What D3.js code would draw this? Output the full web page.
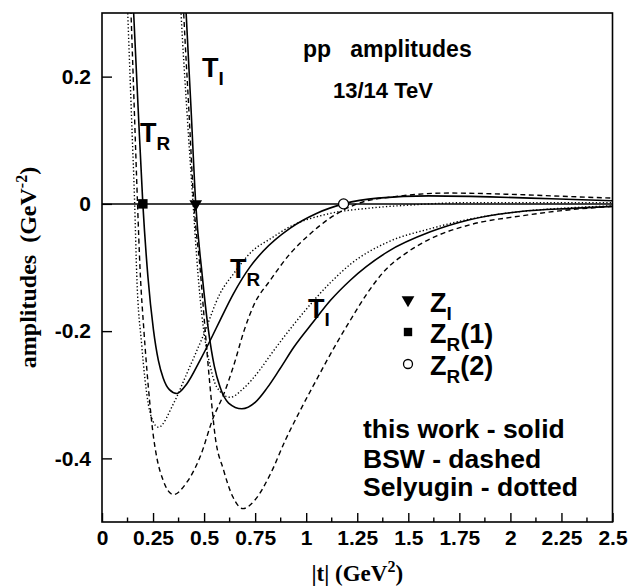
<!DOCTYPE html>
<html><head><meta charset="utf-8">
<script src="https://cdn.jsdelivr.net/npm/d3@7"></script>
<style>body{margin:0;background:#fff}</style>
</head><body>
<svg id="c" width="628" height="588"></svg>
<script>
// ---- data ----
const xTickValues = [0, 0.25, 0.5, 0.75, 1, 1.25, 1.5, 1.75, 2, 2.25, 2.5];
const xTickLabels = ["0", "0.25", "0.5", "0.75", "1", "1.25", "1.5", "1.75", "2", "2.25", "2.5"];
const yTickValues = [0.2, 0, -0.2, -0.4];
const yTickLabels = ["0.2", "0", "-0.2", "-0.4"];

// this work (solid)
const solidTR_t = [0.09, 0.155, 0.177, 0.2, 0.225, 0.252, 0.276, 0.3, 0.33, 0.366, 0.415, 0.48, 0.537, 0.578, 0.644, 0.725, 0.79, 0.922, 1.05, 1.183, 1.35, 1.6, 1.9, 2.2, 2.5];
const solidTR_v = [0.8, 0.3, 0.15, 0, -0.115, -0.198, -0.246, -0.274, -0.292, -0.298, -0.283, -0.246, -0.21, -0.183, -0.141, -0.099, -0.074, -0.038, -0.015, 0, 0.009, 0.0125, 0.011, 0.008, 0.005];
const solidTI_t = [0.36, 0.412, 0.436, 0.459, 0.49, 0.521, 0.55, 0.578, 0.62, 0.685, 0.75, 0.807, 0.87, 0.94, 1.036, 1.118, 1.216, 1.4, 1.608, 1.8, 2.05, 2.3, 2.5];
const solidTI_v = [0.7, 0.3, 0.15, 0, -0.11, -0.198, -0.255, -0.288, -0.313, -0.322, -0.312, -0.29, -0.26, -0.225, -0.185, -0.152, -0.12, -0.075, -0.044, -0.025, -0.012, -0.007, -0.004];

// BSW (dashed)
const bswTR_t = [0.08, 0.142, 0.158, 0.174, 0.186, 0.205, 0.227, 0.252, 0.268, 0.3, 0.35, 0.41, 0.48, 0.546, 0.595, 0.644, 0.697, 0.742, 0.824, 0.922, 1.02, 1.118, 1.25, 1.45, 1.7, 2.0, 2.25, 2.5];
const bswTR_v = [0.8, 0.3, 0.15, 0, -0.1, -0.198, -0.288, -0.366, -0.398, -0.435, -0.457, -0.44, -0.398, -0.335, -0.3, -0.255, -0.198, -0.16, -0.12, -0.078, -0.047, -0.022, 0, 0.012, 0.017, 0.015, 0.012, 0.009];
const bswTI_t = [0.35, 0.40, 0.425, 0.45, 0.48, 0.505, 0.53, 0.554, 0.595, 0.64, 0.69, 0.75, 0.824, 0.9, 0.97, 1.036, 1.158, 1.216, 1.3, 1.379, 1.5, 1.608, 1.8, 2.05, 2.3, 2.5];
const bswTI_v = [0.7, 0.3, 0.15, 0, -0.1, -0.198, -0.29, -0.365, -0.418, -0.46, -0.479, -0.465, -0.425, -0.37, -0.325, -0.285, -0.214, -0.183, -0.14, -0.107, -0.075, -0.055, -0.033, -0.019, -0.009, -0.004];

// Selyugin (dotted)
const selTR_t = [0.07, 0.126, 0.143, 0.16, 0.17, 0.194, 0.227, 0.25, 0.276, 0.35, 0.415, 0.497, 0.578, 0.644, 0.733, 0.824, 0.92, 1.118, 1.3, 1.5, 1.8, 2.1, 2.5];
const selTR_v = [0.8, 0.3, 0.15, 0, -0.11, -0.22, -0.315, -0.342, -0.351, -0.314, -0.267, -0.206, -0.141, -0.11, -0.075, -0.055, -0.036, -0.015, -0.007, -0.002, 0.002, 0.002, 0.002];
const selTI_t = [0.33, 0.387, 0.415, 0.446, 0.47, 0.489, 0.505, 0.53, 0.562, 0.627, 0.693, 0.775, 0.824, 0.938, 1.118, 1.216, 1.4, 1.608, 1.8, 2.05, 2.3, 2.5];
const selTI_v = [0.75, 0.3, 0.15, 0, -0.11, -0.175, -0.214, -0.255, -0.288, -0.304, -0.29, -0.26, -0.238, -0.19, -0.124, -0.095, -0.06, -0.039, -0.024, -0.012, -0.006, -0.003];

// zeros of the amplitudes (this work)
const zeroI = [0.459, 0];
const zeroR1 = [0.2, 0];
const zeroR2 = [1.183, 0];

// ---- chart ----
const svg = d3.select("#c");
const L = 102, R = 612.5, T = 13, B = 522;
const x = d3.scaleLinear().domain([0, 2.5]).range([L, R]);
const y = d3.scaleLinear().domain([-0.5, 0.3]).range([B, T]);
const sans = "'Liberation Sans', Arial, Helvetica, sans-serif";
const serif = "'Liberation Serif', 'Times New Roman', serif";

svg.append("defs").append("clipPath").attr("id", "clip")
  .append("rect").attr("x", L).attr("y", T).attr("width", R - L).attr("height", B - T);

// zero line
svg.append("line").attr("x1", L).attr("x2", R).attr("y1", y(0)).attr("y2", y(0))
  .attr("stroke", "#000").attr("stroke-width", 1.5);

const line = d3.line().x(d => x(d[0])).y(d => y(d[1])).curve(d3.curveMonotoneX);
const zip = (a, b) => a.map((t, i) => [t, b[i]]);
const series = [
  {d: zip(solidTR_t, solidTR_v), dash: null, w: 1.6},
  {d: zip(solidTI_t, solidTI_v), dash: null, w: 1.6},
  {d: zip(bswTR_t, bswTR_v), dash: "5,3.5", w: 1.4},
  {d: zip(bswTI_t, bswTI_v), dash: "5,3.5", w: 1.4},
  {d: zip(selTR_t, selTR_v), dash: "1.3,2.2", w: 1.4},
  {d: zip(selTI_t, selTI_v), dash: "1.3,2.2", w: 1.4}
];
const g = svg.append("g").attr("clip-path", "url(#clip)");
series.forEach(s => {
  g.append("path").attr("d", line(s.d)).attr("fill", "none").attr("stroke", "#000")
    .attr("stroke-width", s.w).attr("stroke-dasharray", s.dash);
});

// axes
const xAxis = d3.axisBottom(x).tickValues(xTickValues).tickFormat((d, i) => xTickLabels[i]).tickSizeInner(-9).tickSizeOuter(0).tickPadding(8);
const gx = svg.append("g").attr("transform", `translate(0,${B})`).call(xAxis);
gx.select(".domain").remove();
gx.selectAll("text").attr("font-family", sans).attr("font-weight", "bold").attr("font-size", 21).attr("fill", "#000");
gx.selectAll("line").attr("stroke", "#000").attr("stroke-width", 1.4);
// minor ticks
svg.append("g").selectAll("line").data(d3.range(0.125, 2.5, 0.25)).join("line")
  .attr("x1", d => x(d)).attr("x2", d => x(d)).attr("y1", B).attr("y2", B - 4.5)
  .attr("stroke", "#000").attr("stroke-width", 1.4);

const yAxis = d3.axisLeft(y).tickValues(yTickValues).tickFormat((d, i) => yTickLabels[i]).tickSizeInner(-10).tickSizeOuter(0).tickPadding(11);
const gy = svg.append("g").attr("transform", `translate(${L},0)`).call(yAxis);
gy.select(".domain").remove();
gy.selectAll("text").attr("font-family", sans).attr("font-weight", "bold").attr("font-size", 21).attr("fill", "#000");
gy.selectAll("line").attr("stroke", "#000").attr("stroke-width", 1.4);

// frame
svg.append("rect").attr("x", L).attr("y", T).attr("width", R - L).attr("height", B - T)
  .attr("fill", "none").attr("stroke", "#000").attr("stroke-width", 1.6);

// markers on curves
const sym = (type, size) => d3.symbol().type(type).size(size)();
svg.append("path").attr("d", sym(d3.symbolSquare, 90)).attr("transform", `translate(${x(zeroR1[0])},${y(zeroR1[1])})`).attr("fill", "#000");
svg.append("path").attr("d", sym(d3.symbolTriangle, 70)).attr("transform", `translate(${x(zeroI[0])},${y(zeroI[1])}) rotate(180)`).attr("fill", "#000");
svg.append("circle").attr("cx", x(zeroR2[0])).attr("cy", y(zeroR2[1])).attr("r", 5)
  .attr("fill", "#fff").attr("stroke", "#000").attr("stroke-width", 1.3);

// text helpers
function sub(xp, yp, main, s, size, extra) {
  const t = svg.append("text").attr("x", xp).attr("y", yp).attr("font-family", sans)
    .attr("font-weight", "bold").attr("font-size", size).attr("fill", "#000");
  t.append("tspan").text(main);
  t.append("tspan").attr("dy", 8).attr("font-size", size * 0.7).text(s);
  if (extra) t.append("tspan").attr("dy", -8).text(extra);
  return t;
}
sub(140, 142, "T", "R", 27);
sub(202, 77, "T", "I", 27);
sub(230, 278, "T", "R", 27);
sub(308, 318, "T", "I", 27);

svg.append("text").attr("x", 303).attr("y", 57).attr("font-family", sans).attr("font-weight", "bold")
  .attr("font-size", 23).attr("xml:space", "preserve").style("white-space", "pre").text("pp   amplitudes");
svg.append("text").attr("x", 333).attr("y", 98).attr("font-family", sans).attr("font-weight", "bold")
  .attr("font-size", 22).text("13/14 TeV");

// legend of zeros
svg.append("path").attr("d", sym(d3.symbolTriangle, 70)).attr("transform", `translate(408,300) rotate(180)`).attr("fill", "#000");
sub(430, 312, "Z", "I", 27);
svg.append("path").attr("d", sym(d3.symbolSquare, 70)).attr("transform", `translate(408,332)`).attr("fill", "#000");
sub(430, 343, "Z", "R", 27, "(1)");
svg.append("circle").attr("cx", 408).attr("cy", 364).attr("r", 4.5).attr("fill", "#fff").attr("stroke", "#000").attr("stroke-width", 1.3);
sub(430, 375, "Z", "R", 27, "(2)");

const legendLines = ["this work - solid", "BSW - dashed", "Selyugin - dotted"];
const legendY = [438, 468, 496];
legendLines.forEach((s, i) => {
  svg.append("text").attr("x", 363).attr("y", legendY[i]).attr("font-family", sans).attr("font-weight", "bold")
    .attr("font-size", 26.5).text(s);
});

// axis titles
const xt = svg.append("text").attr("x", (L + R) / 2).attr("y", 581).attr("text-anchor", "middle")
  .attr("font-family", serif).attr("font-weight", "bold").attr("font-size", 23);
xt.append("tspan").text("|t| (GeV");
xt.append("tspan").attr("dy", -9).attr("font-size", 16).text("2");
xt.append("tspan").attr("dy", 9).text(")");

const yt = svg.append("text").attr("transform", `translate(36,${(T + B) / 2}) rotate(-90)`).attr("text-anchor", "middle")
  .attr("font-family", serif).attr("font-weight", "bold").attr("font-size", 24).attr("xml:space", "preserve").style("white-space", "pre");
yt.append("tspan").text("amplitudes  (GeV");
yt.append("tspan").attr("dy", -9).attr("font-size", 16).text("-2");
yt.append("tspan").attr("dy", 9).text(")");
</script>
</body></html>
